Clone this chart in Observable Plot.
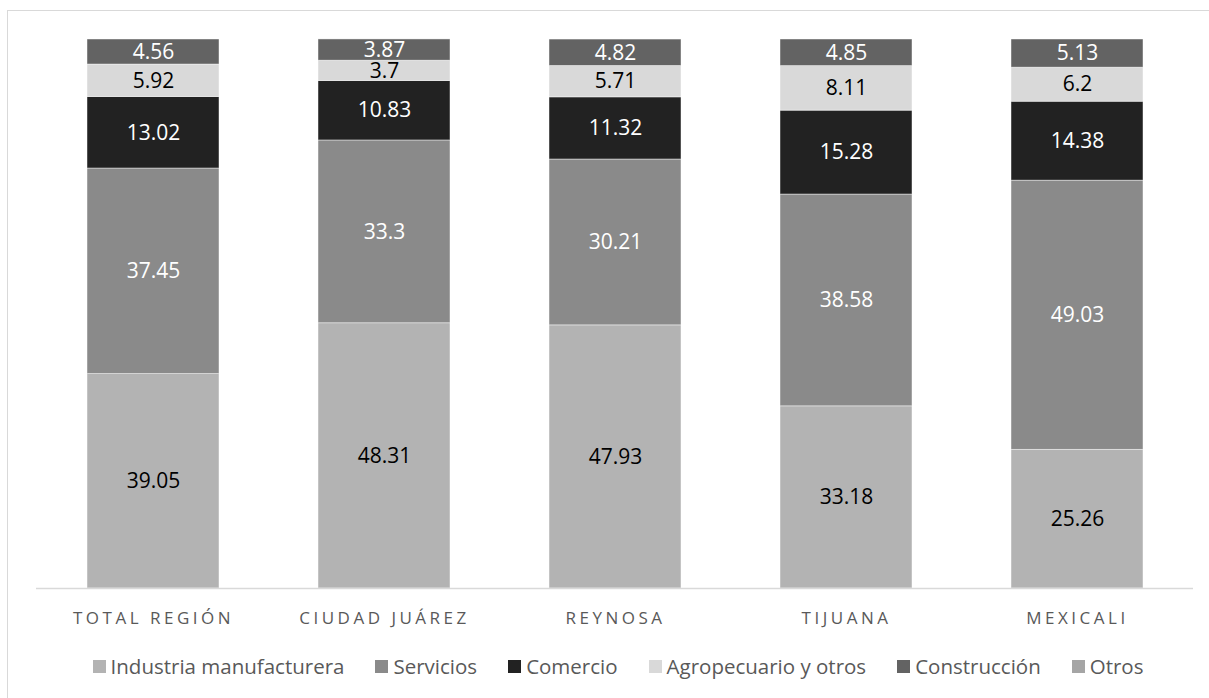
<!DOCTYPE html>
<html><head><meta charset="utf-8">
<script src="https://cdn.jsdelivr.net/npm/d3@7"></script>
<script src="https://cdn.jsdelivr.net/npm/@observablehq/plot@0.6"></script>
<style>
html,body{margin:0;padding:0;background:#fff;overflow:hidden;width:1209px;height:698px;}
#frame{position:absolute;left:7px;top:10px;width:1400px;height:900px;border:1px solid #d9d9d9;box-sizing:border-box}
#chart{position:absolute;left:0;top:0}
#chart svg [aria-label="x-axis tick label"] text{letter-spacing:3.5px}
#legend{position:absolute;left:0;top:652px;width:1236px;display:flex;justify-content:center;gap:31px;font-family:"Open Sans",sans-serif;font-size:20.5px;color:#595959;line-height:28px}
#legend .item{display:flex;align-items:center;gap:5px;white-space:nowrap}
#legend .sw{width:13px;height:13px;display:inline-block}
</style>
</head><body>
<div id="frame"></div>
<div id="chart"></div>
<div id="legend"></div>
<script>
const cities = ["TOTAL REGIÓN", "CIUDAD JUÁREZ", "REYNOSA", "TIJUANA", "MEXICALI"];
const sectors = ["Industria manufacturera", "Servicios", "Comercio", "Agropecuario y otros", "Construcción", "Otros"];
const industria = [39.05, 48.31, 47.93, 33.18, 25.26];
const servicios = [37.45, 33.3, 30.21, 38.58, 49.03];
const comercio = [13.02, 10.83, 11.32, 15.28, 14.38];
const agropecuario = [5.92, 3.7, 5.71, 8.11, 6.2];
const construccion = [4.56, 3.87, 4.82, 4.85, 5.13];
const otros = [0, 0, 0, 0, 0];
const colors = ["#b3b3b3", "#8a8a8a", "#222222", "#d9d9d9", "#636363", "#a5a5a5"];
const labelColors = ["#000000", "#ffffff", "#ffffff", "#000000", "#ffffff", "#000000"];

const series = [industria, servicios, comercio, agropecuario, construccion, otros];
const data = [];
sectors.forEach((s, i) => cities.forEach((c, j) => data.push({sector: s, city: c, value: series[i][j], lc: labelColors[i]})));
const shown = data.filter(d => d.value > 0);

const chart = Plot.plot({
  width: 1209,
  height: 640,
  marginLeft: 36,
  marginRight: 16,
  marginTop: 39,
  marginBottom: 52,
  style: {fontFamily: "'Open Sans', sans-serif", color: "#595959", background: "transparent"},
  x: {domain: cities, paddingInner: 0.43, paddingOuter: 0.215, label: null},
  y: {domain: [0, 100], axis: null},
  color: {domain: sectors, range: colors},
  marks: [
    Plot.barY(shown, Plot.stackY({x: "city", y: "value", z: "sector", fill: "sector", stroke: "white", strokeWidth: 0.75, strokeOpacity: 0.6})),
    Plot.ruleY([0], {stroke: "#d9d9d9", strokeWidth: 1.5}),
    Plot.text(shown, Plot.stackY({x: "city", y: "value", z: "sector", text: d => String(d.value), fill: "lc", fontSize: 21})),
    Plot.axisX({tickSize: 0, tickPadding: 23, fontSize: 17, label: null})
  ]
});
document.getElementById("chart").appendChild(chart);

const legend = document.getElementById("legend");
sectors.forEach((s, i) => {
  const item = document.createElement("div");
  item.className = "item";
  const sw = document.createElement("span");
  sw.className = "sw";
  sw.style.background = colors[i];
  const t = document.createElement("span");
  t.textContent = s;
  item.appendChild(sw); item.appendChild(t);
  legend.appendChild(item);
});
</script>
</body></html>
